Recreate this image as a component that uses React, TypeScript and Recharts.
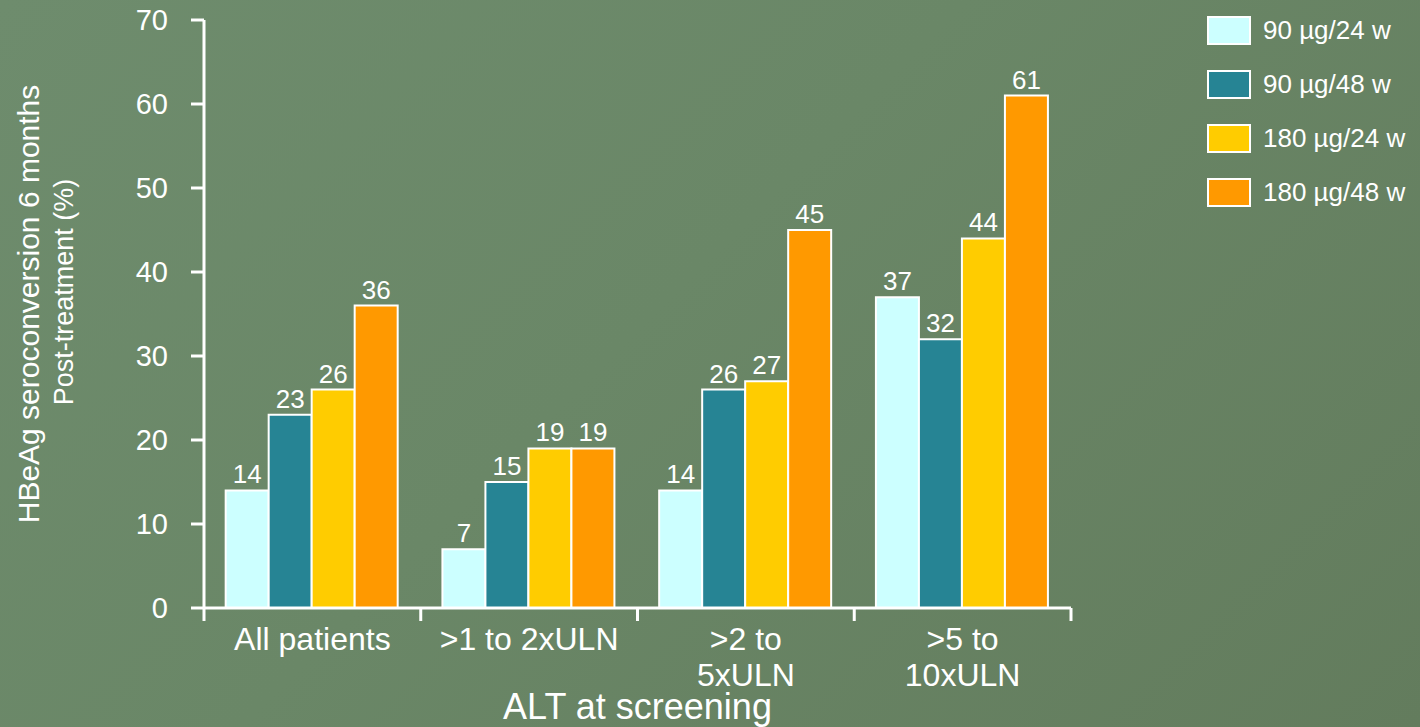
import { Bar, BarChart, LabelList, XAxis, YAxis } from "recharts";

const categories = ["All patients", ">1 to 2xULN", ">2 to\n5xULN", ">5 to\n10xULN"];
const dose90w24 = [14, 7, 14, 37];
const dose90w48 = [23, 15, 26, 32];
const dose180w24 = [26, 19, 27, 44];
const dose180w48 = [36, 19, 45, 61];
const yTicks = [0, 10, 20, 30, 40, 50, 60, 70];

const series = [
  { key: "d90w24", name: "90 µg/24 w", color: "#ccffff", values: dose90w24 },
  { key: "d90w48", name: "90 µg/48 w", color: "#268494", values: dose90w48 },
  { key: "d180w24", name: "180 µg/24 w", color: "#ffcc00", values: dose180w24 },
  { key: "d180w48", name: "180 µg/48 w", color: "#ff9900", values: dose180w48 },
];

const data = categories.map((cat, i) => {
  const row: Record<string, string | number> = { cat };
  series.forEach((s) => {
    row[s.key] = s.values[i];
  });
  return row;
});

const W = 1420;
const H = 727;
const MARGIN = { top: 20, right: 349, bottom: 0, left: 0 };
const Y_AXIS_W = 204;
const X_AXIS_H = 119;
const FONT = "Arial, 'Liberation Sans', Helvetica, sans-serif";
const halfBand = (W - MARGIN.right - Y_AXIS_W) / categories.length / 2;

// category labels with tick marks on the band edges
function CategoryTick(props: any) {
  const { x, y, payload, index } = props;
  const lines = String(payload.value).split("\n");
  const left = x - halfBand;
  const right = x + halfBand;
  return (
    <g>
      <line x1={left} y1={y} x2={left} y2={y + 13} stroke="#fff" strokeWidth={3} />
      {index === categories.length - 1 && (
        <line x1={right} y1={y} x2={right} y2={y + 13} stroke="#fff" strokeWidth={3} />
      )}
      <text x={x} y={y + 42} textAnchor="middle" fill="#fff" fontSize={32} fontFamily={FONT}>
        {lines.map((l, i) => (
          <tspan key={i} x={x} dy={i === 0 ? 0 : 36}>
            {l}
          </tspan>
        ))}
      </text>
    </g>
  );
}

function YTitle() {
  return (
    <g fill="#fff" fontFamily={FONT}>
      <text
        x={28}
        y={304}
        fontSize={30}
        textAnchor="middle"
        dominantBaseline="central"
        transform="rotate(-90 28 304)"
      >
        HBeAg seroconversion 6 months
      </text>
      <text
        x={64}
        y={292}
        fontSize={27}
        textAnchor="middle"
        dominantBaseline="central"
        transform="rotate(-90 64 292)"
      >
        Post-treatment (%)
      </text>
    </g>
  );
}

export default function App() {
  return (
    <div
      style={{
        position: "absolute",
        left: 0,
        top: 0,
        width: W,
        height: H,
        background: "linear-gradient(135deg, #6e8c6d 0%, #6a8767 45%, #637c5d 100%)",
        fontFamily: FONT,
      }}
    >
      <BarChart width={W} height={H} data={data} margin={MARGIN} barCategoryGap="10%" barGap={0}>
        <XAxis
          dataKey="cat"
          height={X_AXIS_H}
          axisLine={{ stroke: "#fff", strokeWidth: 3 }}
          tickLine={false}
          tickSize={0}
          tickMargin={0}
          interval={0}
          tick={<CategoryTick />}
          label={{
            value: "ALT at screening",
            position: "insideBottom",
            offset: 8,
            fill: "#fff",
            fontSize: 36,
            fontFamily: FONT,
          }}
        />
        <YAxis
          width={Y_AXIS_W}
          domain={[0, 70]}
          ticks={yTicks}
          interval={0}
          axisLine={{ stroke: "#fff", strokeWidth: 3 }}
          tickLine={{ stroke: "#fff", strokeWidth: 3 }}
          tickSize={13}
          tickMargin={23}
          tick={{ fill: "#fff", fontSize: 29, fontFamily: FONT }}
          label={{ content: () => <YTitle /> }}
        />
        {series.map((s) => (
          <Bar
            key={s.key}
            dataKey={s.key}
            name={s.name}
            fill={s.color}
            stroke="#fff"
            strokeWidth={2}
            isAnimationActive={false}
          >
            <LabelList
              dataKey={s.key}
              position="top"
              offset={7}
              fill="#fff"
              fontSize={26}
              fontFamily={FONT}
            />
          </Bar>
        ))}
      </BarChart>
      <div style={{ position: "absolute", left: 1207, top: 16 }}>
        {series.map((s) => (
          <div key={s.key} style={{ display: "flex", alignItems: "center", height: 29, marginBottom: 25 }}>
            <div
              style={{
                width: 40,
                height: 25,
                background: s.color,
                border: "2px solid #fff",
                marginRight: 12,
              }}
            />
            <span style={{ color: "#fff", fontSize: 26, whiteSpace: "nowrap" }}>{s.name}</span>
          </div>
        ))}
      </div>
    </div>
  );
}
